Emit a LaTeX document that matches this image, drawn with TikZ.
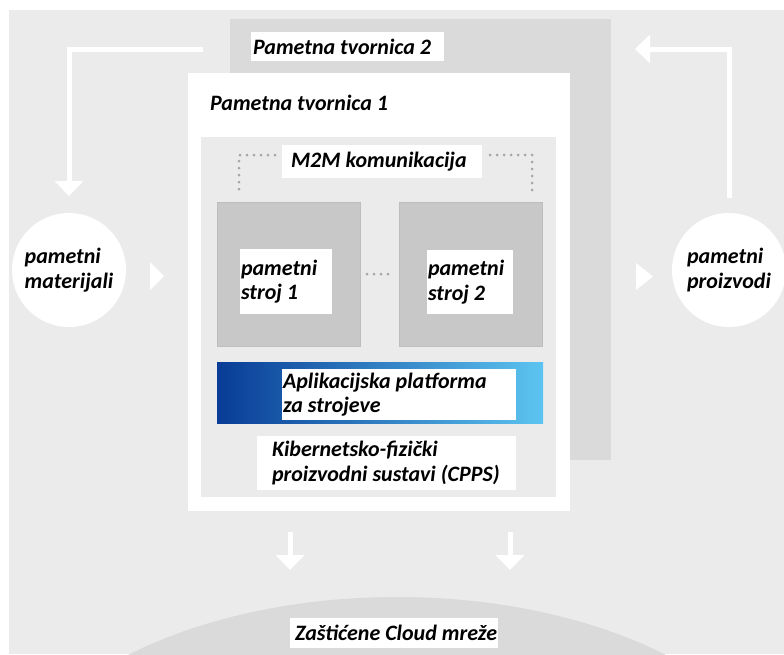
\documentclass[tikz,border=0pt]{standalone}
\usepackage{fontspec}
\setmainfont{Carlito}
\usetikzlibrary{positioning}
\usetikzlibrary{arrows.meta}
\usetikzlibrary{shapes.geometric}
\definecolor{bgray}{RGB}{235,235,235}
\definecolor{fgray}{RGB}{218,218,218}
\definecolor{sgray}{RGB}{200,200,200}
\definecolor{sline}{RGB}{190,190,190}
\definecolor{dgray}{RGB}{165,165,165}
\definecolor{pdark}{RGB}{8,60,150}
\definecolor{pmid}{RGB}{0,150,220}
\definecolor{plight}{RGB}{92,196,240}

\begin{document}
\begin{tikzpicture}[x=1pt,y=-1pt,
    every node/.style={inner sep=0pt,outer sep=0pt,font=\fontsize{22}{24.5}\selectfont\bfseries\itshape},
    area/.style={anchor=north west,rectangle},
    lbox/.style={anchor=north west,fill=white},
    txt/.style={anchor=west,align=left},
    bigarrow/.style={white,line width=5pt,-{Triangle[width=28pt,length=15pt]}},
    dotline/.style={dgray,line width=3pt,line cap=round,dash pattern=on 0pt off 7pt}]
    \useasboundingbox (0,0) rectangle (784,654);
    \fill[bgray] (9,10) rectangle (784,654);
    % cloud
    \node (CL) [ellipse,fill=fgray,minimum width=800pt,minimum height=446pt] at (397,820) {};
    \node (lCL) [lbox,minimum width=208pt,minimum height=30pt] at (290,618) {};
    \node (tCL) [txt,right=5pt of lCL.west] {Zaštićene Cloud mreže};
    % factories
    \node (F2) [area,fill=fgray,minimum width=381pt,minimum height=441pt] at (230,19) {};
    \node (lT2) [lbox,minimum width=193pt,minimum height=29pt] at (251,32) {};
    \node (tT2) [txt,right=2pt of lT2.west] {Pametna tvornica 2};
    \node (F1) [area,fill=white,minimum width=382pt,minimum height=438pt] at (188,73) {};
    \node (tT1) [anchor=base west] at (210,110) {Pametna tvornica 1};
    \node (CP) [area,fill=bgray,minimum width=355pt,minimum height=360pt] at (201,137) {};
    \node (lM2M) [lbox,minimum width=200pt,minimum height=33pt] at (282,145) {};
    \node (tM2M) [txt,right=9pt of lM2M.west] {M2M komunikacija};
    % machines
    \node (S1) [area,fill=sgray,draw=sline,minimum width=143pt,minimum height=144pt] at (217,202) {};
    \node (S2) [area,fill=sgray,draw=sline,minimum width=143pt,minimum height=144pt] at (399,202) {};
    \node (lS1) [lbox,minimum width=92pt,minimum height=65pt] at (240,249) {};
    \node (tS1) [txt,right=1pt of lS1.west] {pametni\\stroj 1};
    \node (lS2) [lbox,minimum width=86pt,minimum height=64pt] at (427,250) {};
    \node (tS2) [txt,right=1pt of lS2.west] {pametni\\stroj 2};
    % platform
    \node (AP) [area,left color=pdark,middle color=pmid,right color=plight,minimum width=326pt,minimum height=61pt] at (217,362) {};
    \node (lAP) [lbox,minimum width=234pt,minimum height=51pt] at (282,369) {};
    \node (tAP) [txt,right=1pt of lAP.west] {Aplikacijska platforma\\za strojeve};
    \node (lCPPS) [lbox,minimum width=259pt,minimum height=54pt] at (257,436) {};
    \node (tCPPS) [txt,right=15pt of lCPPS.west] {Kibernetsko-fizički\\proizvodni sustavi (CPPS)};
    % inputs and outputs
    \node (PM) [circle,fill=white,minimum size=114pt,align=left] at (69,270) {pametni\\materijali};
    \node (PP) [circle,fill=white,minimum size=114pt,align=left] at (729,270) {pametni\\proizvodi};
    \fill[white] (150,262) -- (164,276) -- (150,290) -- cycle;
    \fill[white] (636,263) -- (653,276.5) -- (636,290) -- cycle;
    % connectors
    \coordinate (a1) at (203,49);
    \coordinate (a2) at (635,49);
    \coordinate (d1) at (290,0);
    \coordinate (d2) at (510,0);
    \coordinate (k1) at (275,155);
    \coordinate (k2) at (239,192);
    \coordinate (k3) at (490,155);
    \coordinate (k4) at (532,192);
    \draw[bigarrow,shorten >=17pt] (a1) -| (PM.north);
    \draw[bigarrow,shorten <=15pt] (PP.north) |- (a2);
    \draw[bigarrow,shorten <=21pt,shorten >=27pt] (F1.south -| d1) -- (CL.north -| d1);
    \draw[bigarrow,shorten <=21pt,shorten >=27pt] (F1.south -| d2) -- (CL.north -| d2);
    \draw[dotline] (k1) -| (k2);
    \draw[dotline] (k3) -| (k4);
    \draw[dotline,shorten <=7pt,shorten >=4pt] (S1) -- (S2);
\end{tikzpicture}
\end{document}
